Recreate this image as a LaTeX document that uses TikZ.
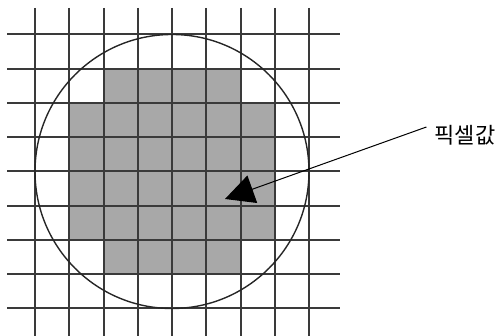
\documentclass[tikz,border=0pt]{standalone}
\usepackage{fontspec}
\newfontfamily\kr{Noto Sans CJK KR}
\usetikzlibrary{arrows.meta,calc}
\definecolor{cellgray}{HTML}{A8A8A8}
\definecolor{gridline}{HTML}{3A3A3A}
\tikzset{
  cell/.style={fill=cellgray, draw=none},
  gridln/.style={draw=gridline, line width=2pt},
  circ/.style={draw=black!85, line width=1.4pt},
  pointer/.style={draw=black, line width=1pt, -{Triangle[length=29pt,width=29pt]}},
  lbl/.style={font=\kr\fontsize{22}{25}\selectfont, inner sep=0pt}
}
\begin{document}
\begin{tikzpicture}[x=1pt,y=-1pt]
  \useasboundingbox (0,0) rectangle (499,336);
  \def\xo{35}\def\yo{34.5}\def\st{34.25}
  % gray cells
  \foreach \r/\a/\b in {1/2/5, 2/1/6, 3/1/6, 4/1/6, 5/1/6, 6/2/5} {
    \foreach \c in {\a,...,\b} {
      \path[cell] ({\xo+\c*\st},{\yo+\r*\st}) rectangle ({\xo+(\c+1)*\st},{\yo+(\r+1)*\st});
    }
  }
  % grid
  \foreach \i in {0,...,8} {
    \draw[gridln] ({\xo+\i*\st},8) -- ({\xo+\i*\st},336);
    \draw[gridln] (7,{\yo+\i*\st}) -- (340,{\yo+\i*\st});
  }
  % circle
  \draw[circ] (172,171.5) circle (137);
  % label and arrow
  \node[lbl] (label) at (465,135) {픽셀값};
  \coordinate (tip) at (225,199);
  \draw[pointer] ($(label.west)+(-8,-8)$) -- (tip);
\end{tikzpicture}
\end{document}
